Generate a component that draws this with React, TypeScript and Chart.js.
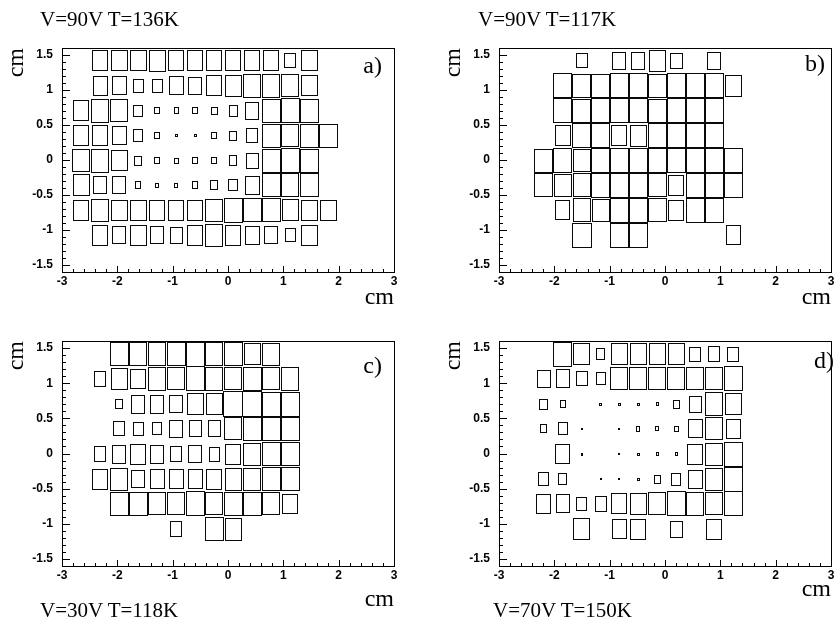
import React, { useEffect, useRef } from 'react';
import { Chart, registerables } from 'chart.js';
Chart.register(...registerables);

// ---- axes / bins ----
const X_TICKS = [-3, -2, -1, 0, 1, 2, 3];
const Y_TICKS = [-1.5, -1, -0.5, 0, 0.5, 1, 1.5];
const BIN_W = 0.342;
const BIN_H = 0.3556;
const Y_CENTERS = [1.422, 1.067, 0.711, 0.356, 0, -0.356, -0.711, -1.067];
const X_CENTERS_A = [-2.66, -2.315, -1.972, -1.63, -1.287, -0.944, -0.6, -0.257, 0.086, 0.43, 0.773, 1.116, 1.46, 1.8];
const X_CENTERS_B = [-2.2, -1.858, -1.516, -1.174, -0.832, -0.49, -0.148, 0.194, 0.536, 0.878, 1.22];

// ---- box sizes (percent of full bin), rows top -> bottom ----
const SIZES_A = [
  [0, 81, 82, 82, 84, 79, 81, 79, 79, 79, 79, 56, 82, 0],
  [0, 75, 74, 52, 52, 72, 70, 79, 86, 92, 92, 88, 82, 0],
  [79, 91, 88, 45, 25, 23, 25, 30, 44, 67, 93, 95, 93, 0],
  [79, 79, 74, 49, 25, 10, 10, 25, 35, 56, 93, 88, 93, 93],
  [88, 91, 82, 38, 24, 22, 24, 26, 39, 61, 93, 97, 93, 0],
  [86, 70, 70, 27, 18, 18, 28, 37, 46, 72, 93, 91, 93, 0],
  [79, 88, 82, 82, 81, 79, 81, 89, 95, 93, 93, 84, 82, 82],
  [0, 81, 70, 82, 70, 65, 81, 89, 79, 74, 68, 53, 82, 0],
];
const SIZES_B = [
  [0, 0, 57, 0, 67, 67, 85, 62, 0, 67, 0],
  [0, 97, 94, 94, 95, 97, 94, 97, 97, 97, 83],
  [0, 97, 94, 97, 97, 97, 94, 97, 97, 97, 0],
  [0, 81, 95, 95, 81, 83, 95, 97, 97, 97, 0],
  [94, 97, 90, 97, 97, 97, 97, 97, 97, 97, 97],
  [94, 88, 92, 97, 97, 97, 94, 81, 97, 97, 97],
  [0, 76, 92, 90, 96, 97, 94, 81, 97, 97, 0],
  [0, 0, 98, 0, 96, 97, 0, 0, 0, 0, 76],
];
const SIZES_C = [
  [0, 0, 93, 91, 91, 93, 96, 91, 93, 84, 89, 0, 0, 0],
  [0, 60, 82, 77, 91, 88, 96, 91, 89, 93, 89, 91, 0, 0],
  [0, 0, 35, 70, 70, 67, 82, 84, 98, 98, 96, 96, 0, 0],
  [0, 0, 56, 53, 49, 68, 65, 63, 88, 93, 93, 93, 0, 0],
  [0, 60, 70, 79, 70, 58, 67, 54, 79, 88, 93, 93, 0, 0],
  [0, 81, 89, 68, 74, 74, 75, 79, 86, 88, 93, 93, 0, 0],
  [0, 0, 93, 93, 88, 89, 96, 88, 93, 93, 89, 77, 0, 0],
  [0, 0, 0, 0, 0, 58, 0, 93, 86, 0, 0, 0, 0, 0],
];
const SIZES_D = [
  [0, 94, 83, 42, 85, 85, 85, 83, 57, 58, 57],
  [67, 71, 57, 48, 88, 88, 88, 88, 88, 88, 94],
  [40, 28, 0, 8, 8, 8, 12, 32, 62, 92, 85],
  [30, 46, 4, 0, 4, 18, 14, 21, 72, 88, 76],
  [0, 74, 6, 0, 3, 8, 12, 10, 80, 88, 94],
  [53, 44, 0, 3, 4, 8, 32, 48, 72, 88, 94],
  [76, 71, 53, 58, 80, 85, 88, 94, 90, 88, 94],
  [0, 0, 83, 0, 76, 80, 0, 64, 0, 80, 0],
];

const TITLES = ['V=90V T=136K', 'V=90V T=117K', 'V=30V T=118K', 'V=70V T=150K'];
const LABELS = ['a)', 'b)', 'c)', 'd)'];

const SERIF = '"Liberation Serif", "Times New Roman", serif';
const SANS = '"Liberation Sans", Arial, sans-serif';

const boxPlugin = {
  id: 'boxes',
  afterDatasetsDraw(chart: any) {
    const { ctx, scales } = chart;
    const xs = scales.x, ys = scales.y;
    const pts = chart.data.datasets[0].data as any[];
    ctx.save();
    ctx.strokeStyle = '#0a0a0a';
    ctx.lineWidth = 1;
    for (const p of pts) {
      const cx = xs.getPixelForValue(p.x);
      const cy = ys.getPixelForValue(p.y);
      const fw = Math.abs(xs.getPixelForValue(p.x + BIN_W / 2) - xs.getPixelForValue(p.x - BIN_W / 2));
      const fh = Math.abs(ys.getPixelForValue(p.y + BIN_H / 2) - ys.getPixelForValue(p.y - BIN_H / 2));
      const w = Math.max(1, Math.round((fw * p.s) / 100));
      const h = Math.max(1, Math.round((fh * p.s) / 100));
      const x0 = Math.round(cx - w / 2) + 0.5;
      const y0 = Math.round(cy - h / 2) + 0.5;
      ctx.strokeRect(x0, y0, w, h);
    }
    ctx.restore();
  },
  afterDraw(chart: any, _args: any, opts: any) {
    const { ctx, chartArea, scales } = chart;
    const { left, right, top, bottom } = chartArea;
    const xs = scales.x, ys = scales.y;
    ctx.save();
    ctx.strokeStyle = '#000';
    ctx.lineWidth = 1;
    ctx.strokeRect(Math.round(left) + 0.5, Math.round(top) + 0.5, Math.round(right - left), Math.round(bottom - top));
    ctx.beginPath();
    for (let i = 0; i <= 30; i++) {
      const v = -3 + i * 0.2;
      const px = Math.round(xs.getPixelForValue(v)) + 0.5;
      const len = i % 5 === 0 ? 6 : 3;
      ctx.moveTo(px, bottom);
      ctx.lineTo(px, bottom - len);
    }
    for (let i = 0; i <= 32; i++) {
      const v = -1.6 + i * 0.1;
      const py = Math.round(ys.getPixelForValue(v)) + 0.5;
      const len = (i - 1) % 5 === 0 ? 8 : 4;
      ctx.moveTo(left, py);
      ctx.lineTo(left + len, py);
    }
    ctx.stroke();
    if (opts && opts.label) {
      ctx.fillStyle = '#000';
      ctx.font = `24px ${SERIF}`;
      ctx.textAlign = 'right';
      ctx.textBaseline = 'alphabetic';
      ctx.fillText(opts.label, right - opts.lx, top + opts.ly);
    }
    ctx.restore();
  },
};

type PanelProps = {
  left: number; top: number; width: number; height: number;
  padTop: number; padRight: number; xAxisH: number; xTitlePad: number;
  xCenters: number[]; sizes: number[][]; label: string; lx: number; ly: number;
};

function Panel(p: PanelProps) {
  const ref = useRef<HTMLCanvasElement>(null);
  useEffect(() => {
    const points: { x: number; y: number; s: number }[] = [];
    p.sizes.forEach((row, r) =>
      row.forEach((s, c) => {
        if (s > 0) points.push({ x: p.xCenters[c], y: Y_CENTERS[r], s });
      })
    );
    const tickFont = { family: SANS, size: 12, weight: 'bold' as const };
    const chart = new Chart(ref.current!, {
      type: 'scatter',
      data: { datasets: [{ data: points as any, pointRadius: 0, pointHoverRadius: 0 }] },
      options: {
        animation: false,
        responsive: false,
        events: [],
        layout: { padding: { top: p.padTop, right: p.padRight, left: 0, bottom: 0 } },
        plugins: {
          legend: { display: false },
          tooltip: { enabled: false },
          boxes: { label: p.label, lx: p.lx, ly: p.ly },
        } as any,
        scales: {
          x: {
            type: 'linear',
            min: -3,
            max: 3,
            afterBuildTicks: (s: any) => { s.ticks = X_TICKS.map((v) => ({ value: v })); },
            afterFit: (s: any) => { s.height = p.xAxisH; },
            grid: { display: false, drawTicks: false },
            border: { display: false },
            ticks: { color: '#000', font: tickFont, padding: 2, maxRotation: 0, autoSkip: false, callback: (v: any) => String(v) },
            title: { display: true, text: 'cm', align: 'end', color: '#000', font: { family: SERIF, size: 24 }, padding: { top: 0, bottom: p.xTitlePad } },
          },
          y: {
            type: 'linear',
            min: -1.6,
            max: 1.6,
            afterBuildTicks: (s: any) => { s.ticks = Y_TICKS.map((v) => ({ value: v })); },
            afterFit: (s: any) => { s.width = 62; },
            grid: { display: false, drawTicks: false },
            border: { display: false },
            ticks: { color: '#000', font: tickFont, padding: 9, autoSkip: false, callback: (v: any) => String(v) },
            title: { display: true, text: 'cm', align: 'end', color: '#000', font: { family: SERIF, size: 24 }, padding: { top: 2, bottom: 0 } },
          },
        },
      } as any,
      plugins: [boxPlugin as any],
    });
    return () => chart.destroy();
  }, []);
  return (
    <canvas
      ref={ref}
      width={p.width}
      height={p.height}
      style={{ position: 'absolute', left: p.left, top: p.top, width: p.width, height: p.height }}
    />
  );
}

const titleStyle = (left: number, top: number): React.CSSProperties => ({
  position: 'absolute', left, top, fontFamily: SERIF, fontSize: 21, lineHeight: '21px', color: '#000', whiteSpace: 'nowrap',
});

export default function App() {
  return (
    <div style={{ position: 'absolute', left: 0, top: 0, width: 837, height: 628, overflow: 'hidden', background: '#fff' }}>
      <Panel left={0} top={0} width={420} height={312} padTop={48} padRight={26} xAxisH={40} xTitlePad={0}
        xCenters={X_CENTERS_A} sizes={SIZES_A} label={LABELS[0]} lx={12} ly={25} />
      <Panel left={437} top={0} width={420} height={312} padTop={48} padRight={26} xAxisH={40} xTitlePad={0}
        xCenters={X_CENTERS_B} sizes={SIZES_B} label={LABELS[1]} lx={6} ly={23} />
      <Panel left={0} top={300} width={420} height={318} padTop={41} padRight={26} xAxisH={52} xTitlePad={4}
        xCenters={X_CENTERS_A} sizes={SIZES_C} label={LABELS[2]} lx={12} ly={32} />
      <Panel left={437} top={300} width={420} height={318} padTop={41} padRight={26} xAxisH={52} xTitlePad={14}
        xCenters={X_CENTERS_B} sizes={SIZES_D} label={LABELS[3]} lx={-3} ly={27} />
      <div style={titleStyle(40, 9)}>{TITLES[0]}</div>
      <div style={titleStyle(478, 9)}>{TITLES[1]}</div>
      <div style={titleStyle(40, 600)}>{TITLES[2]}</div>
      <div style={titleStyle(493, 600)}>{TITLES[3]}</div>
    </div>
  );
}
